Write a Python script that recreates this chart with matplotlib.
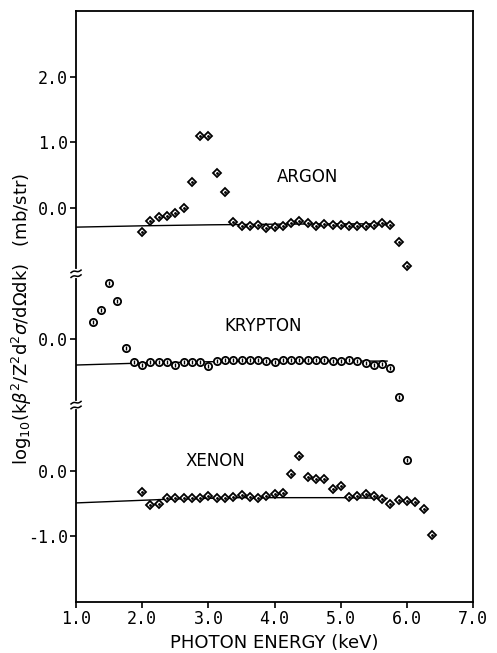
import numpy as np
import matplotlib.pyplot as plt

# photon energies (keV) and log10 cross sections
argon_e = [2.0, 2.125, 2.25, 2.375, 2.5, 2.625, 2.75, 2.875, 3.0, 3.125, 3.25, 3.375,
           3.5, 3.625, 3.75, 3.875, 4.0, 4.125, 4.25, 4.375, 4.5, 4.625, 4.75, 4.875,
           5.0, 5.125, 5.25, 5.375, 5.5, 5.625, 5.75, 5.875, 6.0]
argon_v = [-0.36, -0.19, -0.14, -0.12, -0.07, 0.0, 0.40, 1.10, 1.10, 0.53, 0.25, -0.21,
           -0.28, -0.27, -0.26, -0.31, -0.29, -0.27, -0.23, -0.19, -0.22, -0.28, -0.24, -0.26,
           -0.26, -0.28, -0.27, -0.27, -0.25, -0.23, -0.25, -0.51, -0.88]

krypton_e = [1.25, 1.375, 1.5, 1.625, 1.75, 1.875, 2.0, 2.125, 2.25, 2.375, 2.5, 2.625,
             2.75, 2.875, 3.0, 3.125, 3.25, 3.375, 3.5, 3.625, 3.75, 3.875, 4.0, 4.125,
             4.25, 4.375, 4.5, 4.625, 4.75, 4.875, 5.0, 5.125, 5.25, 5.375, 5.5, 5.625,
             5.75, 5.875, 6.0]
krypton_v = [0.27, 0.45, 0.86, 0.58, -0.13, -0.34, -0.39, -0.34, -0.34, -0.34, -0.39, -0.34,
             -0.35, -0.35, -0.40, -0.33, -0.32, -0.32, -0.32, -0.31, -0.32, -0.33, -0.34, -0.32,
             -0.32, -0.31, -0.32, -0.32, -0.32, -0.33, -0.33, -0.32, -0.33, -0.36, -0.39, -0.38,
             -0.44, -0.88, -1.83]

xenon_e = [2.0, 2.125, 2.25, 2.375, 2.5, 2.625, 2.75, 2.875, 3.0, 3.125, 3.25, 3.375,
           3.5, 3.625, 3.75, 3.875, 4.0, 4.125, 4.25, 4.375, 4.5, 4.625, 4.75, 4.875,
           5.0, 5.125, 5.25, 5.375, 5.5, 5.625, 5.75, 5.875, 6.0, 6.125, 6.25, 6.375]
xenon_v = [-0.33, -0.52, -0.51, -0.41, -0.41, -0.42, -0.41, -0.41, -0.38, -0.42, -0.41, -0.40,
           -0.37, -0.40, -0.42, -0.38, -0.35, -0.34, -0.05, 0.22, -0.09, -0.13, -0.13, -0.28,
           -0.24, -0.40, -0.38, -0.35, -0.38, -0.43, -0.51, -0.45, -0.46, -0.47, -0.58, -0.98]

# theory curves
argon_fit_e = [1.0, 2.0, 3.0, 4.0, 5.0, 5.75]
argon_fit_v = [-0.29, -0.27, -0.255, -0.245, -0.24, -0.24]
krypton_fit_e = [1.0, 2.0, 3.0, 4.0, 5.0, 5.7]
krypton_fit_v = [-0.39, -0.36, -0.34, -0.33, -0.33, -0.33]
xenon_fit_e = [1.0, 1.5, 2.0, 2.5, 3.0, 3.5, 4.0, 5.0, 5.7]
xenon_fit_v = [-0.49, -0.47, -0.45, -0.43, -0.42, -0.41, -0.41, -0.41, -0.42]

# vertical offsets of the three stacked panels
off_ar, off_kr, off_xe = 4.0, 2.0, 0.0

fig = plt.figure(figsize=(4.97, 6.53), dpi=100)
ax = fig.add_axes([0.153, 0.078, 0.799, 0.905])

lw = 1.0
ax.plot(argon_fit_e, np.array(argon_fit_v) + off_ar, color='black', lw=lw, zorder=2)
ax.plot(krypton_fit_e, np.array(krypton_fit_v) + off_kr, color='black', lw=lw, zorder=2)
ax.plot(xenon_fit_e, np.array(xenon_fit_v) + off_xe, color='black', lw=lw, zorder=2)

dia = dict(marker='D', ms=4.2, mfc='white', mec='black', mew=1.3, ls='none', zorder=3)
circ = dict(marker='o', ms=5.2, mfc='white', mec='black', mew=1.3, ls='none', zorder=3)
ax.plot(argon_e, np.array(argon_v) + off_ar, **dia)
ax.plot(argon_e, np.array(argon_v) + off_ar, marker='.', ms=2, color='black', ls='none', zorder=4)
ax.plot(krypton_e, np.array(krypton_v) + off_kr, **circ)
ax.plot(krypton_e, np.array(krypton_v) + off_kr, marker='|', ms=3, mew=1, color='black', ls='none', zorder=4)
ax.plot(xenon_e, np.array(xenon_v) + off_xe, **dia)
ax.plot(xenon_e, np.array(xenon_v) + off_xe, marker='.', ms=2, color='black', ls='none', zorder=4)

ax.text(4.5, 0.47 + off_ar, 'ARGON', ha='center', va='center', fontsize=12)
ax.text(3.82, 0.20 + off_kr, 'KRYPTON', ha='center', va='center', fontsize=12)
ax.text(3.1, 0.15 + off_xe, 'XENON', ha='center', va='center', fontsize=12)

ax.set_xlim(1.0, 7.0)
ax.set_ylim(-2.0, 7.0)
ax.set_xticks([1, 2, 3, 4, 5, 6, 7])
ax.set_xticklabels(['1.0', '2.0', '3.0', '4.0', '5.0', '6.0', '7.0'],
                   fontsize=12, family='DejaVu Sans Mono')
ytick_pos = [2.0 + off_ar, 1.0 + off_ar, 0.0 + off_ar, 0.0 + off_kr, 0.0 + off_xe, -1.0 + off_xe]
ax.set_yticks(ytick_pos)
ax.set_yticklabels(['2.0', '1.0', '0.0', '0.0', '0.0', '-1.0'],
                   fontsize=12, family='DejaVu Sans Mono')
ax.tick_params(direction='out', length=4, width=1.2, pad=2)
for s in ax.spines.values():
    s.set_linewidth(1.3)

ax.set_xlabel('PHOTON ENERGY (keV)', fontsize=13, labelpad=4)
ax.set_ylabel('log$_{10}$(k$\\beta^2$/Z$^2$d$^2\\sigma$/d$\\Omega$dk)   (mb/str)',
              fontsize=13)
ax.yaxis.set_label_coords(-0.105, 0.48)

# axis break marks on the left spine
px = 6.0 / 397
t = np.linspace(-1, 1, 20)
for yb in [off_kr + 1.0, off_xe + 1.0]:
    ax.plot([1.0, 1.0], [yb - 2.4 * px, yb + 2.4 * px], color='white', lw=3,
            clip_on=False, zorder=5)
    for dy in (-2.4, 2.4):
        ax.plot(1.0 + t * 5 * px, yb + (dy + 1.3 * t - 0.8 * np.sin(np.pi * t)) * px,
                color='black', lw=1.1, clip_on=False, zorder=6)

fig.savefig('out.png', dpi=100)
